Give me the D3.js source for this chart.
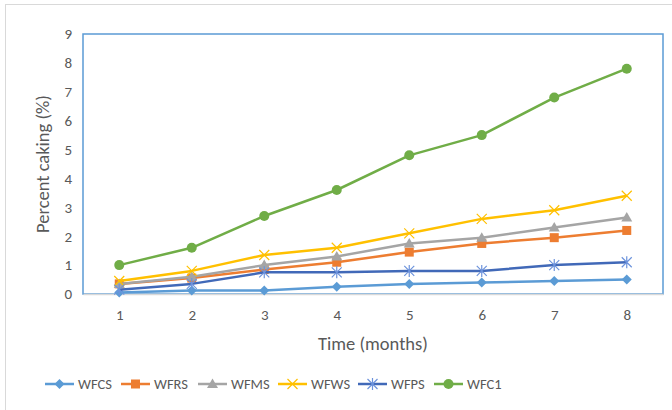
<!DOCTYPE html>
<html><head><meta charset="utf-8">
<script src="https://cdn.jsdelivr.net/npm/d3@7"></script>
<style>body{margin:0;background:#fff}svg{display:block}text{font-family:Carlito,Calibri,"Liberation Sans Narrow",Roboto,sans-serif}</style>
</head><body><svg id="c" width="672" height="410"></svg>
<script>
const months = ["1","2","3","4","5","6","7","8"];
const yTicks = [0,1,2,3,4,5,6,7,8,9];
const seriesNames = ["WFCS","WFRS","WFMS","WFWS","WFPS","WFC1"];
const WFCS = [0.05,0.12,0.12,0.25,0.35,0.4,0.45,0.5];
const WFRS = [0.35,0.55,0.85,1.1,1.45,1.75,1.95,2.2];
const WFMS = [0.35,0.6,1.0,1.3,1.75,1.95,2.3,2.65];
const WFWS = [0.45,0.8,1.35,1.6,2.1,2.6,2.9,3.4];
const WFPS = [0.15,0.35,0.75,0.75,0.8,0.8,1.0,1.1];
const WFC1 = [1.0,1.6,2.7,3.6,4.8,5.5,6.8,7.8];
const seriesValues = [WFCS,WFRS,WFMS,WFWS,WFPS,WFC1];

const styles = [
 {line:"#5b9bd5", mark:"#5b9bd5", sym:"diamond"},
 {line:"#ed7d31", mark:"#ed7d31", sym:"square"},
 {line:"#a5a5a5", mark:"#a5a5a5", sym:"triangle"},
 {line:"#ffc000", mark:"#ffc000", sym:"x"},
 {line:"#4169b8", mark:"#6d93dc", sym:"star"},
 {line:"#70ad47", mark:"#70ad47", sym:"circle"}
];

const svg = d3.select("#c");
const L=83, R=663, T=34, B=294;
svg.append("rect").attr("x",5.5).attr("y",4.5).attr("width",700).attr("height",430)
  .attr("fill","#fff").attr("stroke","#d9d9d9");

const x = d3.scalePoint().domain(months).range([L,R]).padding(0.5);
const y = d3.scaleLinear().domain([0,9]).range([B,T]);

svg.append("rect").attr("x",L).attr("y",T).attr("width",R-L).attr("height",B-T)
  .attr("fill","none").attr("stroke","#5b9bd5").attr("stroke-width",1.5);

const xa = svg.append("g").attr("transform",`translate(0,${B})`)
  .call(d3.axisBottom(x).tickSize(0).tickPadding(15));
xa.select(".domain").attr("stroke","#d9d9d9").attr("stroke-width",1.5);
xa.selectAll("text").attr("fill","#595959").style("font-size","15px");

const ya = svg.append("g").attr("transform",`translate(${L},0)`)
  .call(d3.axisLeft(y).tickValues(yTicks).tickSize(0).tickPadding(11));
ya.select(".domain").remove();
ya.selectAll("text").attr("fill","#595959").style("font-size","15px");

svg.append("text").attr("x",373).attr("y",350).attr("text-anchor","middle")
  .attr("fill","#595959").style("font-size","18.5px").text("Time (months)");
svg.append("text").attr("transform",`translate(49,${(T+B)/2}) rotate(-90)`).attr("text-anchor","middle")
  .attr("fill","#595959").style("font-size","18.5px").text("Percent caking (%)");

function marker(g, sym, cx, cy, st){
  if(sym==="diamond"){
    g.append("path").attr("d",`M${cx},${cy-5}L${cx+5},${cy}L${cx},${cy+5}L${cx-5},${cy}Z`).attr("fill",st.mark);
  } else if(sym==="square"){
    g.append("rect").attr("x",cx-4.5).attr("y",cy-4.5).attr("width",9).attr("height",9).attr("fill",st.mark);
  } else if(sym==="triangle"){
    g.append("path").attr("d",`M${cx},${cy-5.5}L${cx+5.5},${cy+4}L${cx-5.5},${cy+4}Z`).attr("fill",st.mark);
  } else if(sym==="x"){
    g.append("path").attr("d",`M${cx-5},${cy-5}L${cx+5},${cy+5}M${cx-5},${cy+5}L${cx+5},${cy-5}`).attr("stroke",st.mark).attr("stroke-width",1.2);
  } else if(sym==="star"){
    g.append("path").attr("d",`M${cx-5},${cy-5}L${cx+5},${cy+5}M${cx-5},${cy+5}L${cx+5},${cy-5}M${cx},${cy-6}L${cx},${cy+6}`).attr("stroke",st.mark).attr("stroke-width",1.2);
  } else {
    g.append("circle").attr("cx",cx).attr("cy",cy).attr("r",5).attr("fill",st.mark);
  }
}

const line = d3.line().x((d,i)=>x(months[i])).y(d=>y(d));
seriesValues.forEach((vals,si)=>{
  const st = styles[si];
  const g = svg.append("g");
  g.append("path").datum(vals).attr("d",line).attr("fill","none").attr("stroke",st.line).attr("stroke-width",2.5).attr("stroke-linejoin","round");
  vals.forEach((v,i)=>marker(g, st.sym, x(months[i]), y(v), st));
});

// legend
const legX = [45,121,198,278,358,434];
seriesNames.forEach((n,i)=>{
  const st = styles[i];
  const g = svg.append("g");
  const lx = legX[i], ly = 384;
  g.append("line").attr("x1",lx).attr("x2",lx+29).attr("y1",ly).attr("y2",ly).attr("stroke",st.line).attr("stroke-width",2.5);
  marker(g, st.sym, lx+14.5, ly, st);
  g.append("text").attr("x",lx+33).attr("y",ly+5).attr("fill","#595959").style("font-size","14.5px").text(n);
});
</script></body></html>
